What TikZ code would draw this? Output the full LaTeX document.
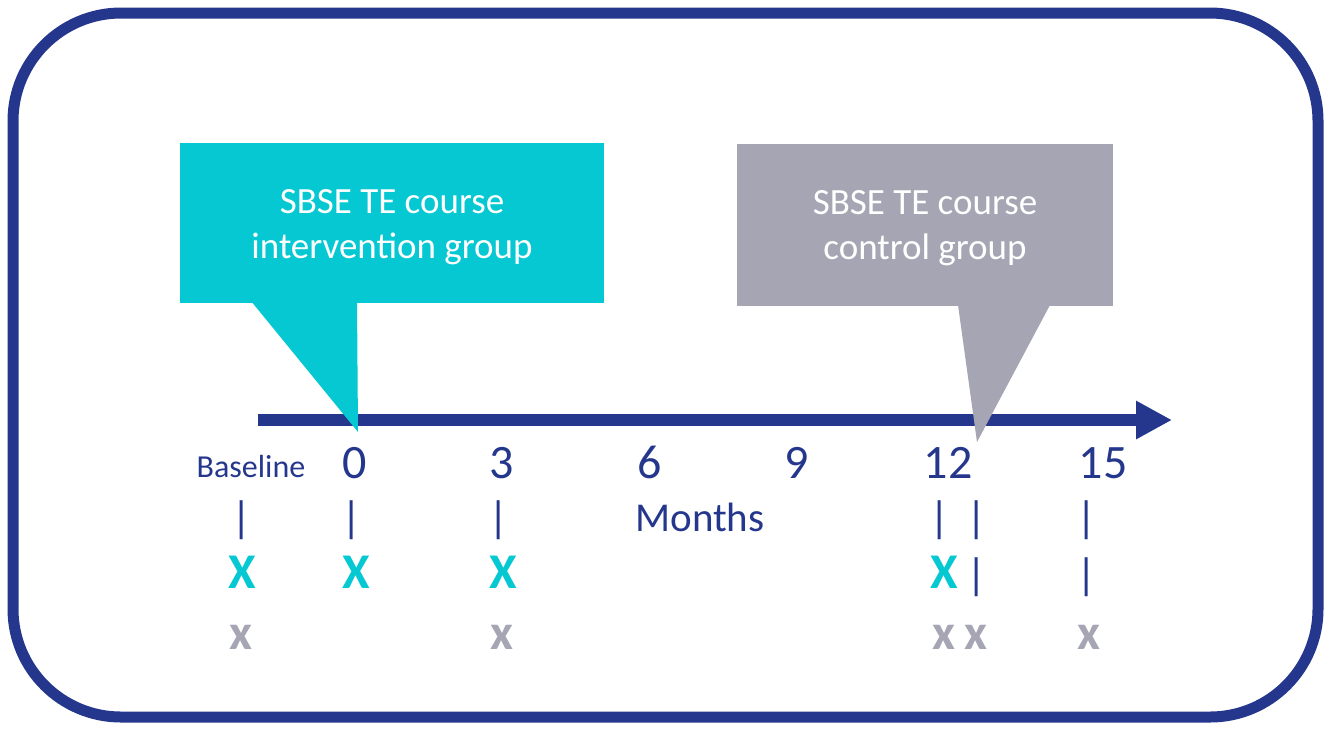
\documentclass[tikz,border=0pt]{standalone}
\usepackage{fontspec}
\setmainfont{Carlito}
\usetikzlibrary{arrows.meta}
\definecolor{navy}{HTML}{25378C}
\definecolor{sbsecyan}{HTML}{05C8D2}
\definecolor{sbsegray}{HTML}{A5A5B4}
\begin{document}
\begin{tikzpicture}[x=0.5pt,y=-0.5pt,line join=round,
	box/.style={inner sep=0pt,minimum width=212pt,minimum height=80pt},
	boxtext/.style={text=white,align=center,font=\fontsize{18.5}{22.5}\selectfont},
	month/.style={anchor=base,text=navy,font=\fontsize{24}{26}\selectfont},
	bar/.style={text=navy,inner sep=0pt,font=\fontsize{22}{24}\selectfont},
	visit/.style={anchor=base,inner sep=0pt,font=\fontsize{25}{28}\selectfont\bfseries}]
	\useasboundingbox (0,0) rectangle (1331,730);
	% frame
	\draw[navy,line width=5.5pt,rounded corners=54pt] (13,13) rectangle (1318,717);
	% time axis
	\coordinate (start) at (258,420);
	\coordinate (end) at (1172,420);
	\draw[navy,line width=6pt,-{Triangle[length=18pt,width=18pt]}] (start) -- (end);
	% callouts
	\node[box,fill=sbsecyan] (ibox) at (392,223) {};
	\node[boxtext] (itext) at (392,227) {SBSE TE course\\intervention group};
	\node[box,fill=sbsegray,minimum width=188pt,minimum height=81pt] (cbox) at (925,225) {};
	\node[boxtext] (ctext) at (925,228) {SBSE TE course\\control group};
	\fill[sbsecyan] (251,301) -- (358,432) -- (357,301) -- cycle;
	\fill[sbsegray] (958,305) -- (977,442) -- (1050,305) -- cycle;
	% months
	\node[month,font=\fontsize{16}{18}\selectfont] (base) at (251,477) {Baseline};
	\foreach \m/\x in {0/355,3/502,6/650,9/797,12/948,15/1103}
		\node[month] (m\m) at (\x,478) {\m};
	\node[month,font=\fontsize{20.5}{24}\selectfont] (months) at (700,531) {Months};
	% visits
	\foreach \x [count=\i] in {242,352,499,940,977,1087}
		\node[bar] (tick\i) at (\x,520) {|};
	\foreach \x [count=\i] in {977,1087}
		\node[bar] (late\i) at (\x,577) {|};
	\foreach \x [count=\i] in {242,356,503,944}
		\node[visit,text=sbsecyan] (ix\i) at (\x,588) {X};
	\foreach \x [count=\i] in {241,502,944,976,1089}
		\node[visit,text=sbsegray] (cx\i) at (\x,649) {x};
\end{tikzpicture}
\end{document}
